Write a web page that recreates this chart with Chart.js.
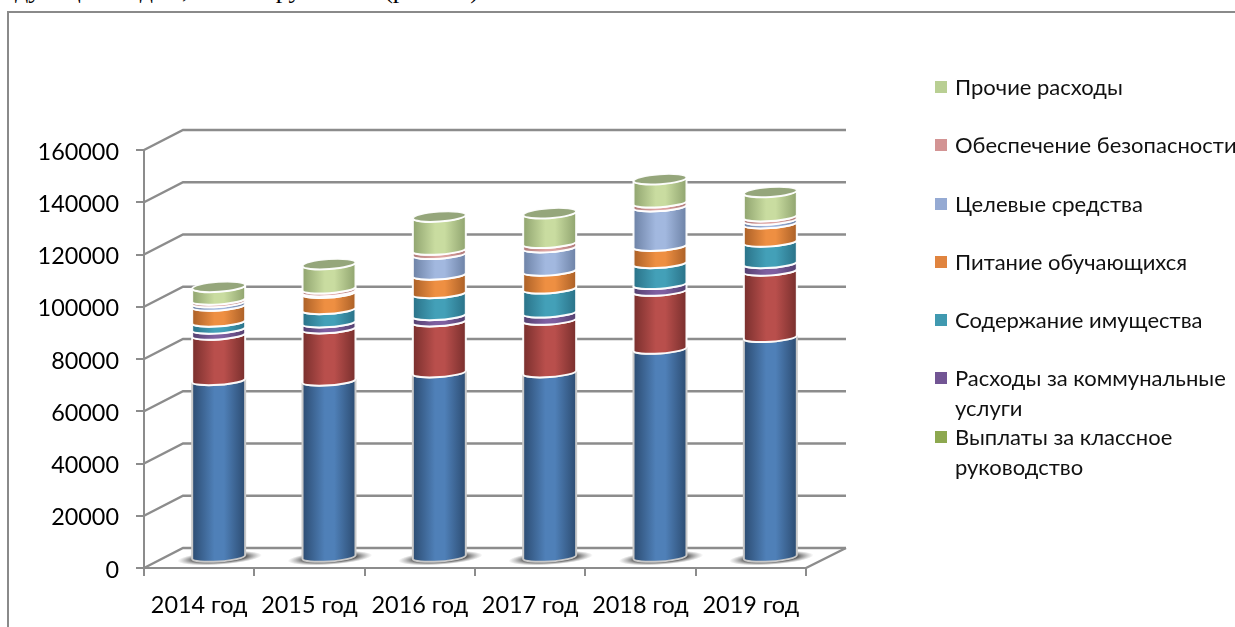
<!DOCTYPE html>
<html>
<head>
<meta charset="utf-8">
<script src="https://cdn.jsdelivr.net/npm/chart.js@4"></script>
<style>
html, body { margin: 0; padding: 0; width: 1235px; height: 627px; overflow: hidden; background: #fff; }
#cut { position: absolute; left: 15px; top: -25px; font: 26px "Liberation Serif", serif; color: #000; white-space: pre; }
#frame { position: absolute; left: 7px; top: 11px; width: 1240px; height: 640px; border-left: 2px solid #8a8a8a; border-top: 2px solid #8a8a8a; }
#wrap { position: absolute; left: 0; top: 0; width: 1235px; height: 627px; }
#legend { position: absolute; left: 935px; top: 72px; font: 22px Lato, "Noto Sans", sans-serif; color: #111; }
#legend div { position: relative; padding-left: 20px; line-height: 30px; margin-bottom: 28.3px; white-space: pre; }
#legend div.two { margin-bottom: -1.7px; }
#legend i { position: absolute; left: 0; top: 9px; width: 12px; height: 12px; }
</style>
</head>
<body>
<div id="cut">дующим годом, после группами  (рис. 15)</div>
<div id="frame"></div>
<div id="wrap"><canvas id="grafico" width="1235" height="627"></canvas></div>
<div id="legend"></div>
<script>
const anos = ['2014 год', '2015 год', '2016 год', '2017 год', '2018 год', '2019 год'];

// values, bottom of the stack first
const zarplata = [68000, 67800, 71000, 71000, 80000, 84500];
const vyplaty2 = [17400, 20000, 19500, 20100, 22200, 25400];
const klassnoe = [0, 0, 0, 0, 0, 0];
const kommunal = [2300, 2300, 2400, 2800, 2600, 2900];
const imushch = [2700, 5100, 8400, 9200, 8000, 8200];
const pitanie = [6100, 6200, 7100, 6800, 6600, 7000];
const celevye = [1300, 600, 7900, 8900, 15100, 1400];
const bezopas = [1000, 1100, 1600, 1700, 1500, 1300];
const prochie = [5000, 9400, 12800, 11500, 9000, 9400];

const yTicks = [0, 20000, 40000, 60000, 80000, 100000, 120000, 140000, 160000];

// the blue and red series have no legend entry in the picture
const nomes = ['', '', 'Выплаты за классное\nруководство', 'Расходы за коммунальные\nуслуги',
    'Содержание имущества', 'Питание обучающихся', 'Целевые средства', 'Обеспечение безопасности', 'Прочие расходы'];
const series = [zarplata, vyplaty2, klassnoe, kommunal, imushch, pitanie, celevye, bezopas, prochie];

// [edge, centre] of the cylinder shading, then legend swatch
const sombra = ['#2c4c72', '#792f2d', '#66803a', '#54406f', '#2a7288', '#ab6027', '#6d82a6', '#b07a79', '#90a46f'];
const centro = ['#4f80b8', '#b94f4c', '#9bbb59', '#7e5fa0', '#43a0b8', '#ee8f42', '#a2b8df', '#dea4a2', '#c9dca0'];
const amostra = ['#4f81bd', '#c0504d', '#8da84f', '#725594', '#4099b0', '#e0843f', '#95aad3', '#d39494', '#b9cf93'];

const depthX = 39, depthY = 20; // back wall offset of the fake 3d box
const tilt = -4 * Math.PI / 180;
const eixo = '#8c8c8c';

function linha(ctx, pts) {
    ctx.beginPath();
    pts.forEach((p, i) => i ? ctx.lineTo(p[0], p[1]) : ctx.moveTo(p[0], p[1]));
    ctx.stroke();
}

const caixa3d = {
    id: 'caixa3d',
    // box behind the bars
    beforeDatasetsDraw(chart) {
        const ctx = chart.ctx, a = chart.chartArea, y = chart.scales.y;
        ctx.save();
        ctx.lineWidth = 2.4;
        ctx.strokeStyle = eixo;
        yTicks.forEach((t) => {
            const py = y.getPixelForValue(t);
            linha(ctx, [[a.left, py], [a.left + depthX, py - depthY], [a.right + depthX + 1, py - depthY]]);
        });
        linha(ctx, [[a.right, a.bottom], [a.right + depthX + 1, a.bottom - depthY]]);
        ctx.restore();
    },
    // native rectangles are replaced in afterDatasetsDraw
    beforeDatasetDraw() {
        return false;
    },
    afterDatasetsDraw(chart) {
        const ctx = chart.ctx;
        ctx.save();
        ctx.translate(depthX / 2, -depthY / 2);

        chart.getDatasetMeta(0).data.forEach((bar) => {
            ctx.save();
            ctx.translate(bar.x + 1, bar.base + 1);
            ctx.rotate(tilt);
            ctx.scale(1, 0.16);
            const r = bar.width * 0.8;
            const g = ctx.createRadialGradient(0, 0, r * 0.62, 0, 0, r);
            g.addColorStop(0, 'rgba(75,75,75,0.9)');
            g.addColorStop(1, 'rgba(130,130,130,0)');
            ctx.fillStyle = g;
            ctx.beginPath();
            ctx.arc(0, 0, r, 0, Math.PI * 2);
            ctx.fill();
            ctx.restore();
        });

        series.forEach((s, i) => {
            chart.getDatasetMeta(i).data.forEach((bar, j) => {
                if (s[j] === 0) return;
                const half = bar.width / 2;
                const a = half / Math.cos(tilt), b = 4.5;
                const g = ctx.createLinearGradient(bar.x - half, 0, bar.x + half, 0);
                g.addColorStop(0, sombra[i]);
                g.addColorStop(0.42, centro[i]);
                g.addColorStop(0.6, centro[i]);
                g.addColorStop(1, sombra[i]);
                ctx.beginPath();
                ctx.ellipse(bar.x, bar.y, a, b, tilt, Math.PI, 0, true);
                ctx.ellipse(bar.x, bar.base, a, b, tilt, 0, Math.PI, false);
                ctx.closePath();
                ctx.fillStyle = g;
                ctx.fill();
                ctx.lineWidth = 2;
                ctx.strokeStyle = i === 0 ? '#c9c9c9' : 'rgba(255,255,255,0.95)';
                ctx.stroke();
            });
        });

        // top lid
        chart.getDatasetMeta(series.length - 1).data.forEach((bar) => {
            const half = bar.width / 2;
            ctx.beginPath();
            ctx.ellipse(bar.x, bar.y, half / Math.cos(tilt), 5, tilt, 0, Math.PI * 2);
            ctx.fillStyle = '#95a67b';
            ctx.fill();
            ctx.lineWidth = 2;
            ctx.strokeStyle = 'rgba(255,255,255,0.95)';
            ctx.stroke();
        });
        ctx.restore();
    }
};

const legend = document.getElementById('legend');
for (let i = series.length - 1; i >= 0; i--) {
    if (!nomes[i]) continue;
    const item = document.createElement('div');
    item.textContent = nomes[i];
    if (nomes[i].includes('\n')) item.className = 'two';
    const box = document.createElement('i');
    box.style.background = amostra[i];
    item.appendChild(box);
    legend.appendChild(item);
}

const ctx = document.getElementById('grafico');
const fonte = { family: 'Lato, "Noto Sans", sans-serif', size: 23.4 };

new Chart(ctx, {
    type: 'bar',
    data: {
        labels: anos,
        datasets: series.map((s, i) => ({
            label: nomes[i],
            data: s,
            backgroundColor: amostra[i],
            barPercentage: 0.96,
            categoryPercentage: 0.5
        }))
    },
    options: {
        responsive: false,
        animation: false,
        layout: { padding: { left: 0, top: 150, right: 429, bottom: 0 } },
        plugins: { legend: { display: false }, tooltip: { enabled: false } },
        scales: {
            x: {
                stacked: true,
                afterFit(scale) { scale.height = 59; },
                border: { color: eixo, width: 2 },
                grid: { drawOnChartArea: false, tickLength: 8, color: eixo, lineWidth: 2 },
                ticks: { color: '#000', font: fonte, padding: 15, maxRotation: 0, autoSkip: false }
            },
            y: {
                stacked: true,
                min: 0,
                max: 160000,
                afterFit(scale) { scale.width = 144; },
                afterBuildTicks(scale) { scale.ticks = yTicks.map((v) => ({ value: v })); },
                border: { color: eixo, width: 2 },
                grid: { drawOnChartArea: false, tickLength: 8, color: eixo, lineWidth: 2 },
                ticks: { color: '#000', font: fonte, padding: 17, labelOffset: 2, callback: (v) => String(v) }
            }
        }
    },
    plugins: [caixa3d]
});
</script>
</body>
</html>
